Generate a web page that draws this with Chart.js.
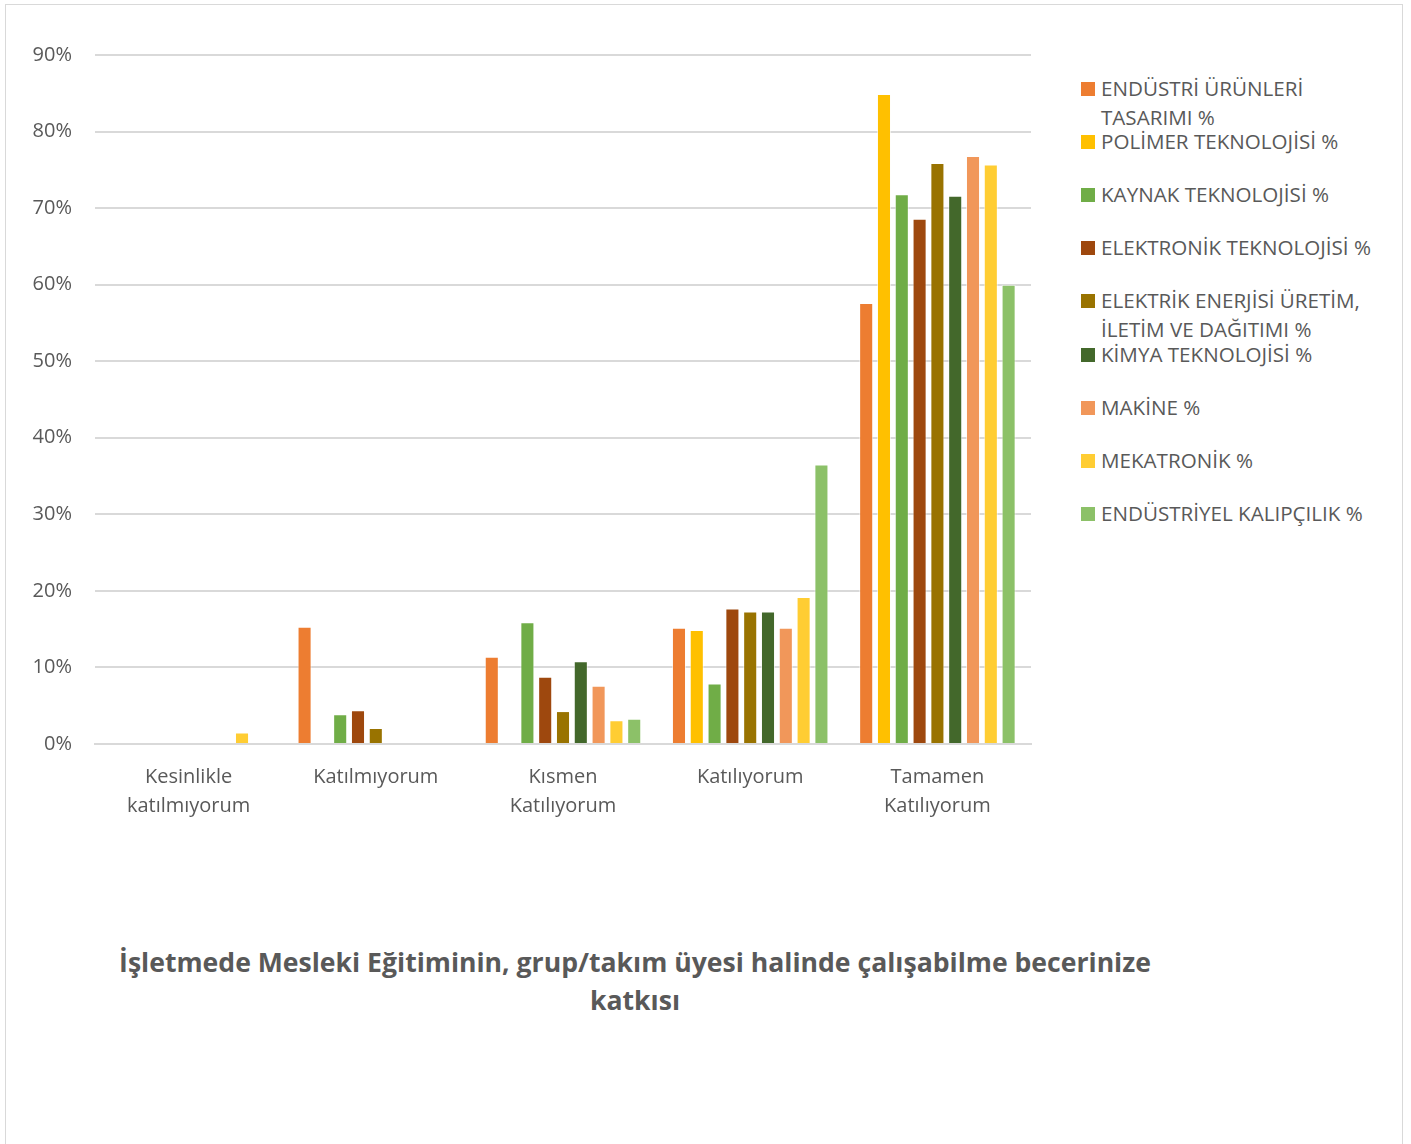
<!DOCTYPE html>
<html>
<head>
<meta charset="utf-8">
<script src="https://cdn.jsdelivr.net/npm/chart.js@4.4.0/dist/chart.umd.min.js"></script>
<style>
  body { margin: 0; background: #fff; font-family: "Open Sans", sans-serif; }
  #frame { position: absolute; left: 5px; top: 4px; width: 1398px; height: 1150px; border: 1px solid #d9d9d9; box-sizing: border-box; }
  #wrap { position: absolute; left: 0; top: 0; width: 1040px; height: 840px; }
  #legend { position: absolute; left: 1081px; top: 74px; color: #595959; font-size: 20.6px; }
  .item { position: absolute; left: 0; white-space: nowrap; line-height: 29px; }
  .box { position: absolute; left: 0; top: 8px; width: 14px; height: 14px; }
  .txt { position: absolute; left: 20px; top: 0; }
  #title { position: absolute; left: 85px; width: 1100px; top: 943px; text-align: center; color: #595959; font-weight: bold; font-size: 26.6px; line-height: 38px; }
</style>
</head>
<body>
<div id="frame"></div>
<div id="wrap"><canvas id="chart"></canvas></div>
<div id="legend"></div>
<div id="title">İşletmede Mesleki Eğitiminin, grup/takım üyesi halinde çalışabilme becerinize<br>katkısı</div>
<script>
const categories = [
    ['Kesinlikle', 'katılmıyorum'],
    'Katılmıyorum',
    ['Kısmen', 'Katılıyorum'],
    'Katılıyorum',
    ['Tamamen', 'Katılıyorum']
];

const seriesNames = [
    ['ENDÜSTRİ ÜRÜNLERİ', 'TASARIMI %'],
    ['POLİMER TEKNOLOJİSİ %'],
    ['KAYNAK TEKNOLOJİSİ %'],
    ['ELEKTRONİK TEKNOLOJİSİ %'],
    ['ELEKTRİK ENERJİSİ ÜRETİM,', 'İLETİM VE DAĞITIMI %'],
    ['KİMYA TEKNOLOJİSİ %'],
    ['MAKİNE %'],
    ['MEKATRONİK %'],
    ['ENDÜSTRİYEL KALIPÇILIK %']
];

const endustriUrunleri = [0, 15.3, 11.4, 15.2, 57.6];
const polimer = [0, 0, 0, 14.9, 84.9];
const kaynak = [0, 3.9, 15.9, 7.9, 71.8];
const elektronik = [0, 4.4, 8.8, 17.7, 68.6];
const elektrik = [0, 2.1, 4.3, 17.3, 75.9];
const kimya = [0, 0, 10.8, 17.3, 71.6];
const makine = [0, 0, 7.6, 15.2, 76.8];
const mekatronik = [1.5, 0, 3.1, 19.2, 75.7];
const kalipcilik = [0, 0, 3.3, 36.5, 60.0];

const seriesValues = [endustriUrunleri, polimer, kaynak, elektronik, elektrik, kimya, makine, mekatronik, kalipcilik];

const colors = ['#ED7D31', '#FFC000', '#70AD47', '#9E480E', '#997300', '#43682B', '#F1975A', '#FFCD33', '#8CC168'];

const yTicks = [0, 10, 20, 30, 40, 50, 60, 70, 80, 90];

const textColor = '#595959';
const gridColor = '#d9d9d9';

const datasets = seriesValues.map((vals, i) => ({
    label: seriesNames[i].join(' '),
    data: vals,
    backgroundColor: colors[i],
    borderColor: 'rgba(255,255,255,0.6)',
    borderWidth: 1,
    borderSkipped: 'bottom',
    categoryPercentage: 0.856,
    barPercentage: 0.79
}));

// legend as html, built from the same arrays
const legend = document.getElementById('legend');
seriesNames.forEach((name, i) => {
    const item = document.createElement('div');
    item.className = 'item';
    item.style.top = (i * 53.1) + 'px';
    item.innerHTML = '<span class="box" style="background:' + colors[i] + '"></span><span class="txt">' + name.join('<br>') + '</span>';
    legend.appendChild(item);
});

const ctx = document.getElementById('chart');

new Chart(ctx, {
    type: 'bar',
    data: { labels: categories, datasets: datasets },
    options: {
        responsive: true,
        maintainAspectRatio: false,
        animation: false,
        layout: { padding: { top: 55, right: 9, left: 0, bottom: 0 } },
        plugins: {
            legend: { display: false },
            tooltip: { enabled: false }
        },
        scales: {
            x: {
                afterFit: s => { s.height = 96; },
                grid: { display: false },
                border: { color: gridColor, width: 2 },
                ticks: {
                    color: textColor,
                    font: { family: 'Open Sans', size: 20, lineHeight: 1.45 },
                    padding: 11,
                    maxRotation: 0,
                    autoSkip: false
                }
            },
            y: {
                min: 0,
                max: 90,
                afterFit: s => { s.width = 95; },
                afterBuildTicks: s => { s.ticks = yTicks.map(v => ({ value: v })); },
                grid: { color: gridColor, lineWidth: 2, drawTicks: false },
                border: { display: false },
                ticks: {
                    color: textColor,
                    font: { family: 'Open Sans', size: 20 },
                    padding: 23,
                    callback: v => v + '%'
                }
            }
        }
    }
});
</script>
</body>
</html>
